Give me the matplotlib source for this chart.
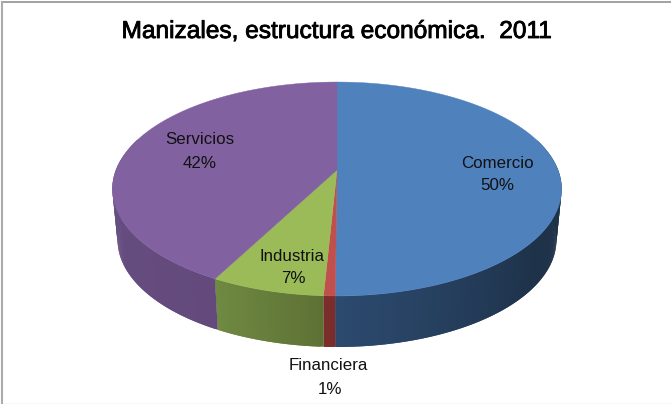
import numpy as np
import matplotlib
matplotlib.use("Agg")
import matplotlib.pyplot as plt
import matplotlib.patheffects as pe
from matplotlib.colors import to_rgb

# data
categories = ["Comercio", "Financiera", "Industria", "Servicios"]
values = [50.1, 0.7, 6.9, 42.3]
labels_pct = ["50%", "1%", "7%", "42%"]
title = "Manizales, estructura económica.  2011"

# styles
top_colors = ["#4F81BD", "#C0504D", "#9BBB59", "#8161A0"]
side_start = ["#1E3249", "#7A2D2B", "#5E7135", "#644A7C"]   # colour at arc start
side_end = ["#2C4A6F", "#7A2D2B", "#6F8A42", "#6A5488"]     # colour at arc end
label_pos = [(497, 163.5, 497, 185.5), (328, 366, 330, 389), (292, 256.5, 293, 278.5), (200, 140, 200, 163)]

plt.rcParams["font.family"] = ["Liberation Sans", "DejaVu Sans"]
fig = plt.figure(figsize=(6.71, 4.04), dpi=100)
ax = fig.add_axes([0, 0, 1, 1])
ax.set_xlim(0, 671)
ax.set_ylim(404, 0)
ax.axis("off")

# projective view of the unit disc
CX, S, A, B, C = 337.0, 221.0, -73.4, 170.0, 0.1776
DEPTH, SHRINK = 51.0, 0.977


def project(t):
    """t = clockwise angle from 12 o'clock, radians."""
    x, y = np.sin(t), np.cos(t)
    w = C * y + 1
    return CX + S * x / w, (A * y + B) / w


edges = np.concatenate([[0], np.cumsum(values)]) / sum(values) * 2 * np.pi
apex = (CX, B)

# side walls: overlapping strips drawn in order so no seams show
for i in range(len(values)):
    t0, t1 = edges[i], edges[i + 1]
    n = max(4, int((t1 - t0) / 0.012))
    ts = np.linspace(t0, t1, n + 1)
    X, Y = project(ts)
    Xb, Yb = CX + (X - CX) * SHRINK, Y + DEPTH
    c0, c1 = np.array(to_rgb(side_start[i])), np.array(to_rgb(side_end[i]))
    for j in range(n):
        if np.cos(ts[j]) > 0.3 and np.cos(ts[j + 1]) > 0.3:
            continue
        f = (j + 0.5) / n
        # blue wall stays at its dark tone until near the front
        if i == 0:
            f = max(0.0, (f - 0.7) / 0.3)
        col = c0 + (c1 - c0) * f
        k = min(j + 2, n)
        ax.fill([X[j], X[k], Xb[k], Xb[j]],
                [Y[j], Y[k], Yb[k], Yb[j]],
                color=col, lw=0, zorder=2 + i * 0.01)

# top face
for i in range(len(values)):
    ts = np.linspace(edges[i], edges[i + 1], 300)
    X, Y = project(ts)
    ax.fill(np.r_[apex[0], X], np.r_[apex[1], Y], color=top_colors[i], lw=0.3, zorder=3)

# labels
for name, pct, (x1, y1, x2, y2) in zip(categories, labels_pct, label_pos):
    ax.text(x1, y1, name, ha="center", va="center", fontsize=12.2, color="#111111", zorder=5)
    ax.text(x2, y2, pct, ha="center", va="center", fontsize=12.2, color="#111111", zorder=5)

t = ax.text(336, 32, title, ha="center", va="center", fontsize=17.6, color="black", zorder=5)
t.set_path_effects([pe.withStroke(linewidth=0.6, foreground="black")])

# chart frame: heavier at left and top, faint at the bottom, none at the right
ax.plot([1.5, 671], [2, 2], color="#9A9A9A", lw=1.3, zorder=1, solid_capstyle="butt")
ax.plot([1.5, 1.5], [1, 404], color="#ABABAB", lw=1.5, zorder=1, solid_capstyle="butt")
ax.plot([2, 671], [403.5, 403.5], color="#DDDDDD", lw=1, zorder=1, solid_capstyle="butt")
fig.savefig("out.png", dpi=100)
